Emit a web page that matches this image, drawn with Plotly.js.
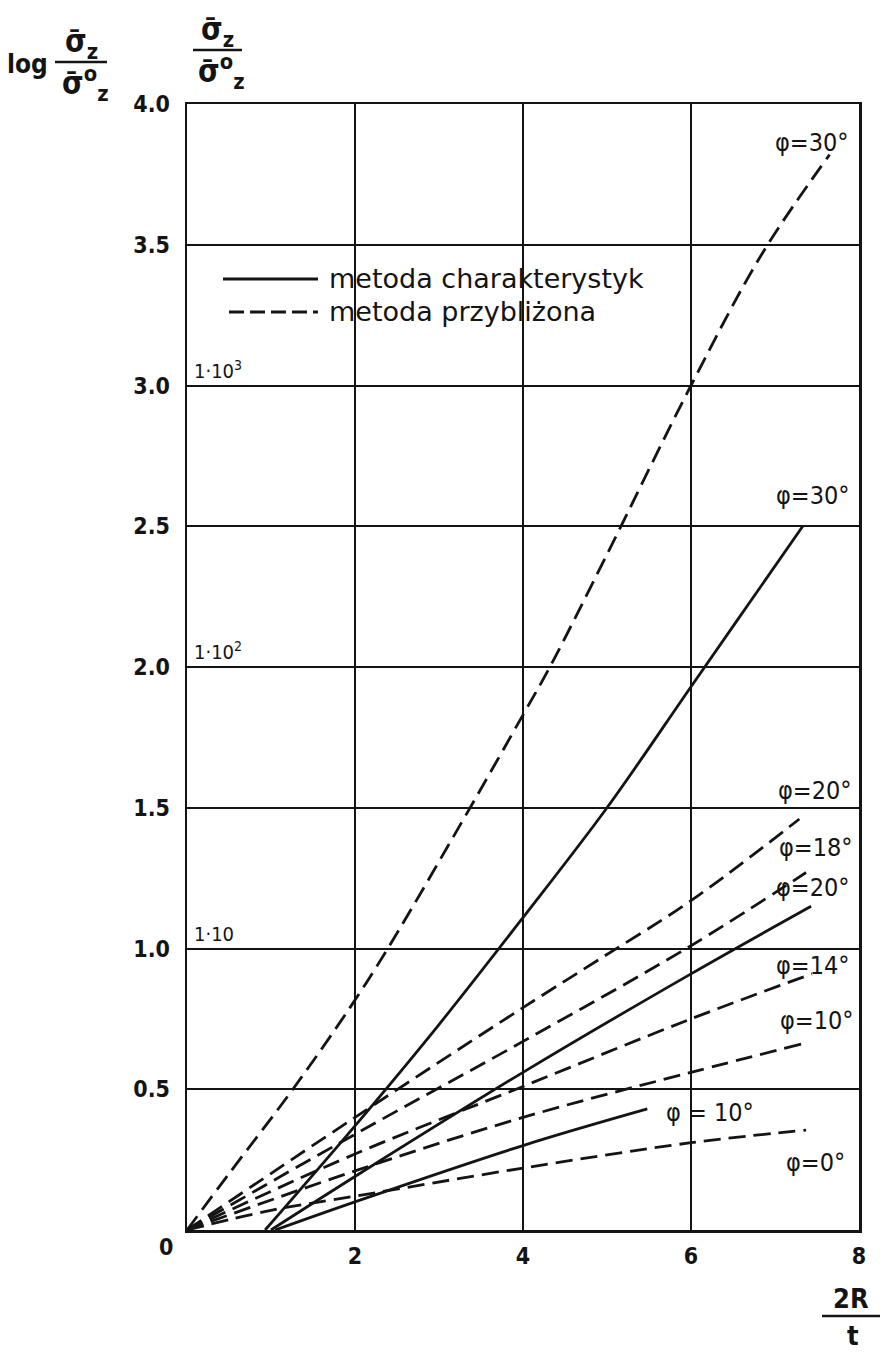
<!DOCTYPE html>
<html><head><meta charset="utf-8">
<script src="https://cdn.plot.ly/plotly-3.0.1.min.js"></script>
<style>html,body{margin:0;padding:0;background:#fff}#chart{width:881px;height:1353px}</style>
</head><body><div id="chart"></div>
<script>
// ---- data ----
const xTickVals = [2, 4, 6, 8];
const xTickText = ['2', '4', '6', '8'];
const yTickVals = [0.5, 1, 1.5, 2, 2.5, 3, 3.5, 4];
const yTickText = ['0.5', '1.0', '1.5', '2.0', '2.5', '3.0', '3.5', '4.0'];
const logLabelText = ['1·10', '1·10<sup>2</sup>', '1·10<sup>3</sup>'];
const logLabelY = [1, 2, 3];

// metoda przybliżona (dashed)
const xA30 = [0, 0.5, 1.26, 1.94, 2.39, 3.37, 4.0, 4.32, 5.0, 6.0, 6.85, 7.65];
const yA30 = [0, 0.2, 0.5, 0.79, 1.0, 1.5, 1.83, 2.0, 2.4, 3.0, 3.47, 3.82];
const xA20 = [0, 2, 4, 4.9, 6, 7.29];
const yA20 = [0, 0.40, 0.79, 0.96, 1.17, 1.46];
const xA18 = [0, 2, 4, 6, 7.37];
const yA18 = [0, 0.34, 0.67, 1.01, 1.27];
const xA14 = [0, 2, 4, 6, 7.44];
const yA14 = [0, 0.27, 0.51, 0.75, 0.91];
const xA10 = [0, 2, 4, 6, 7.31];
const yA10 = [0, 0.21, 0.40, 0.56, 0.66];
const xA0 = [0, 1, 2, 4, 6, 7.37];
const yA0 = [0, 0.07, 0.12, 0.22, 0.31, 0.355];

// metoda charakterystyk (solid)
const xC30 = [0.93, 2.0, 3.0, 4.0, 5.0, 6.0, 6.7, 7.33];
const yC30 = [0, 0.37, 0.73, 1.11, 1.5, 1.93, 2.23, 2.5];
const xC20 = [1.0, 2, 4, 6, 7.43];
const yC20 = [0, 0.19, 0.56, 0.91, 1.15];
const xC10 = [1.05, 2, 4, 5.48];
const yC10 = [0, 0.10, 0.30, 0.43];

const legendNames = ['metoda charakterystyk', 'metoda przybliżona'];
const curveLabels = ['φ=30°', 'φ=30°', 'φ=20°', 'φ=18°', 'φ=20°', 'φ=14°', 'φ=10°', 'φ = 10°', 'φ=0°'];

// ---- geometry helpers (pixel -> paper) ----
const W = 881, H = 1353, L = 187, R = 859, T = 104, B = 1230;
const px = x => (x - L) / (R - L);
const py = y => (B - y) / (B - T);

const FONT = 'DejaVu Sans Condensed, Liberation Sans Narrow, sans-serif';
const FONTW = 'DejaVu Sans, Liberation Sans, sans-serif';
const INK = '#141414';

function tr(x, y, dashed, name) {
  return {
    x: x, y: y, type: 'scatter', mode: 'lines', name: name, showlegend: false,
    line: {color: INK, width: 2.8, shape: 'spline', smoothing: 1.0, dash: dashed ? '17px,8px' : 'solid'},
    hoverinfo: 'skip'
  };
}

const traces = [
  tr(xA30, yA30, true, legendNames[1]),
  tr(xA20, yA20, true, legendNames[1]),
  tr(xA18, yA18, true, legendNames[1]),
  tr(xA14, yA14, true, legendNames[1]),
  tr(xA10, yA10, true, legendNames[1]),
  tr(xA0, yA0, true, legendNames[1]),
  tr(xC30, yC30, false, legendNames[0]),
  tr(xC20, yC20, false, legendNames[0]),
  tr(xC10, yC10, false, legendNames[0])
];

// curve labels: positions in pixels
const labelPos = [[812, 143], [813, 495], [815, 790], [816, 847], [813, 887], [813, 965], [817, 1020], [710, 1112], [815, 1162]];

const annotations = [];
curveLabels.forEach((t, i) => {
  annotations.push({xref: 'paper', yref: 'paper', x: px(labelPos[i][0]), y: py(labelPos[i][1]),
    text: t, showarrow: false, xanchor: 'center', yanchor: 'middle',
    font: {family: FONT, size: 25, color: INK}});
});
logLabelText.forEach((t, i) => {
  annotations.push({xref: 'paper', yref: 'y', x: px(192), y: logLabelY[i], text: t, showarrow: false,
    xanchor: 'left', yanchor: 'bottom', yshift: 1, font: {family: FONT, size: 20, color: INK}});
});
// "0" at the corner
annotations.push({xref: 'paper', yref: 'paper', x: px(166), y: py(1247), text: '0', showarrow: false,
  xanchor: 'center', yanchor: 'middle', font: {family: FONT, size: 23, color: INK, weight: 'bold'}});
// legend texts
annotations.push({xref: 'paper', yref: 'paper', x: px(327), y: py(278), text: legendNames[0], showarrow: false,
  xanchor: 'left', yanchor: 'middle', font: {family: FONTW, size: 27, color: INK}});
annotations.push({xref: 'paper', yref: 'paper', x: px(327), y: py(311), text: legendNames[1], showarrow: false,
  xanchor: 'left', yanchor: 'middle', font: {family: FONTW, size: 27, color: INK}});
// axis titles (fractions)
const sig = 'σ\u0304';
annotations.push({xref: 'paper', yref: 'paper', x: px(27), y: py(64), text: 'log', showarrow: false,
  xanchor: 'center', yanchor: 'middle', font: {family: FONT, size: 26, color: INK, weight: 'bold'}});
function frac(cx, barY) {
  annotations.push({xref: 'paper', yref: 'paper', x: px(cx), y: py(barY - 18), text: sig + '<sub>z</sub>', showarrow: false,
    xanchor: 'center', yanchor: 'middle', font: {family: FONT, size: 31, color: INK, weight: 'bold'}});
  annotations.push({xref: 'paper', yref: 'paper', x: px(cx + 4), y: py(barY + 22), text: sig + '<sup>o</sup><sub>z</sub>', showarrow: false,
    xanchor: 'center', yanchor: 'middle', font: {family: FONT, size: 31, color: INK, weight: 'bold'}});
}
frac(81, 62);
frac(217, 50);
// x title 2R / t
annotations.push({xref: 'paper', yref: 'paper', x: px(851), y: py(1299), text: '2R', showarrow: false,
  xanchor: 'center', yanchor: 'middle', font: {family: FONT, size: 27, color: INK, weight: 'bold'}});
annotations.push({xref: 'paper', yref: 'paper', x: px(853), y: py(1335), text: 't', showarrow: false,
  xanchor: 'center', yanchor: 'middle', font: {family: FONT, size: 27, color: INK, weight: 'bold'}});

const shapes = [
  // legend background box
  {type: 'rect', xref: 'paper', yref: 'y', x0: 0, x1: 0.745, y0: 3.0, y1: 3.5, layer: 'between',
    fillcolor: '#fff', line: {width: 0}},
  {type: 'line', xref: 'paper', yref: 'paper', x0: px(223), x1: px(318), y0: py(279), y1: py(279),
    line: {color: INK, width: 2.8}},
  {type: 'line', xref: 'paper', yref: 'paper', x0: px(229), x1: px(318), y0: py(312), y1: py(312),
    line: {color: INK, width: 2.8, dash: '15px,6px'}},
  // fraction bars
  {type: 'line', xref: 'paper', yref: 'paper', x0: px(55), x1: px(107), y0: py(62), y1: py(62), line: {color: INK, width: 2.5}},
  {type: 'line', xref: 'paper', yref: 'paper', x0: px(193), x1: px(242), y0: py(50), y1: py(50), line: {color: INK, width: 2.5}},
  {type: 'line', xref: 'paper', yref: 'paper', x0: px(822), x1: px(880), y0: py(1316), y1: py(1316), line: {color: INK, width: 2.5}}
];

const axisCommon = {
  showgrid: true, gridcolor: INK, gridwidth: 2, zeroline: false,
  showline: true, linecolor: INK, linewidth: 2.5, mirror: true, ticks: '',
  tickfont: {family: FONT, size: 23, color: INK, weight: 'bold'}, fixedrange: true
};

const layout = {
  width: W, height: H, paper_bgcolor: '#fff', plot_bgcolor: '#fff',
  margin: {l: L, r: W - R, t: T, b: H - B, pad: 0},
  showlegend: false,
  xaxis: Object.assign({}, axisCommon, {range: [0, 8], tickvals: xTickVals, ticktext: xTickText, ticklabelstandoff: 4}),
  yaxis: Object.assign({}, axisCommon, {range: [0, 4], tickvals: yTickVals, ticktext: yTickText, ticklabelstandoff: 10}),
  annotations: annotations, shapes: shapes
};

Plotly.newPlot('chart', traces, layout, {staticPlot: true, displayModeBar: false});
</script></body></html>
